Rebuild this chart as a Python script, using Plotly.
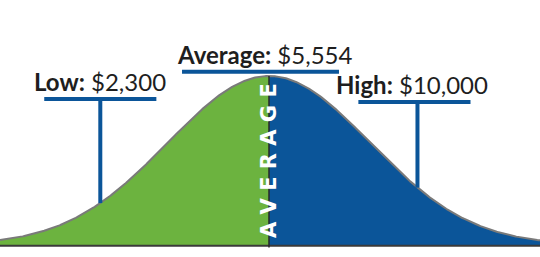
import numpy as np
import plotly.graph_objects as go

# ---- data ----
labels = ["Low:", "Average:", "High:"]
values = ["$2,300", "$5,554", "$10,000"]
marker_z = [-1.67, 0.0, 1.47]          # position of each marker along the curve (in std devs)
center_label = "AVERAGE"

GREEN = "#6cb33f"
BLUE = "#0b5599"
X_MIN, X_MAX = -2.663, 2.683

def bell(z):
    return np.exp(-0.5 * np.asarray(z) ** 2)

zl = np.linspace(X_MIN, 0, 300)
zr = np.linspace(0, X_MAX, 300)
za = np.linspace(X_MIN, X_MAX, 600)

fig = go.Figure()
fig.add_trace(go.Scatter(x=zl, y=bell(zl), fill="tozeroy", fillcolor=GREEN,
                         mode="lines", line=dict(width=0), hoverinfo="skip"))
fig.add_trace(go.Scatter(x=zr, y=bell(zr), fill="tozeroy", fillcolor=BLUE,
                         mode="lines", line=dict(width=0), hoverinfo="skip"))
fig.add_trace(go.Scatter(x=za, y=bell(za), mode="lines",
                         line=dict(color="#7a7a7a", width=2), hoverinfo="skip"))

shapes = []
# baseline
shapes.append(dict(type="line", xref="paper", x0=0, x1=1, yref="y", y0=-0.004, y1=-0.004,
                   line=dict(color="#3a3a3a", width=2)))
# center line
shapes.append(dict(type="line", x0=0, x1=0, y0=-0.015, y1=1.0,
                   line=dict(color="#2a2a2a", width=1.5)))

bar_y = [0.864, 1.025, 0.846]
bar_half = [0.555, 0.777, 0.555]
bar_off = [0.0, -0.084, -0.03]
annotations = []
for i, (lab, val, z) in enumerate(zip(labels, values, marker_z)):
    cx = z + bar_off[i]
    shapes.append(dict(type="line", x0=cx - bar_half[i], x1=cx + bar_half[i],
                       y0=bar_y[i], y1=bar_y[i], line=dict(color=BLUE, width=4)))
    if i != 1:
        shapes.append(dict(type="line", x0=z, x1=z, y0=bar_y[i], y1=float(bell(z)),
                           line=dict(color=BLUE, width=4)))
    annotations.append(dict(x=z + (0.0 if i == 0 else (-0.045 if i == 1 else -0.055)),
                            y=bar_y[i], xref="x", yref="y",
                            text=f"<b>{lab}</b> {val}", showarrow=False,
                            xanchor="center", yanchor="bottom", yshift=1,
                            font=dict(family="Lato", size=24, color="#1e1e1e")))

annotations.append(dict(x=0, y=0.5, xref="x", yref="y",
                        text="<b>" + " ".join(center_label) + "</b>",
                        textangle=-90, showarrow=False, xshift=-0.5,
                        font=dict(family="DejaVu Sans", size=21, color="white")))

fig.update_layout(
    width=540, height=257,
    margin=dict(l=0, r=0, t=0, b=0),
    paper_bgcolor="white", plot_bgcolor="white",
    showlegend=False,
    xaxis=dict(range=[X_MIN, X_MAX], visible=False, fixedrange=True),
    yaxis=dict(range=[-0.071, 1.4497], visible=False, fixedrange=True),
    shapes=shapes, annotations=annotations,
)
fig.write_html("out.html")
